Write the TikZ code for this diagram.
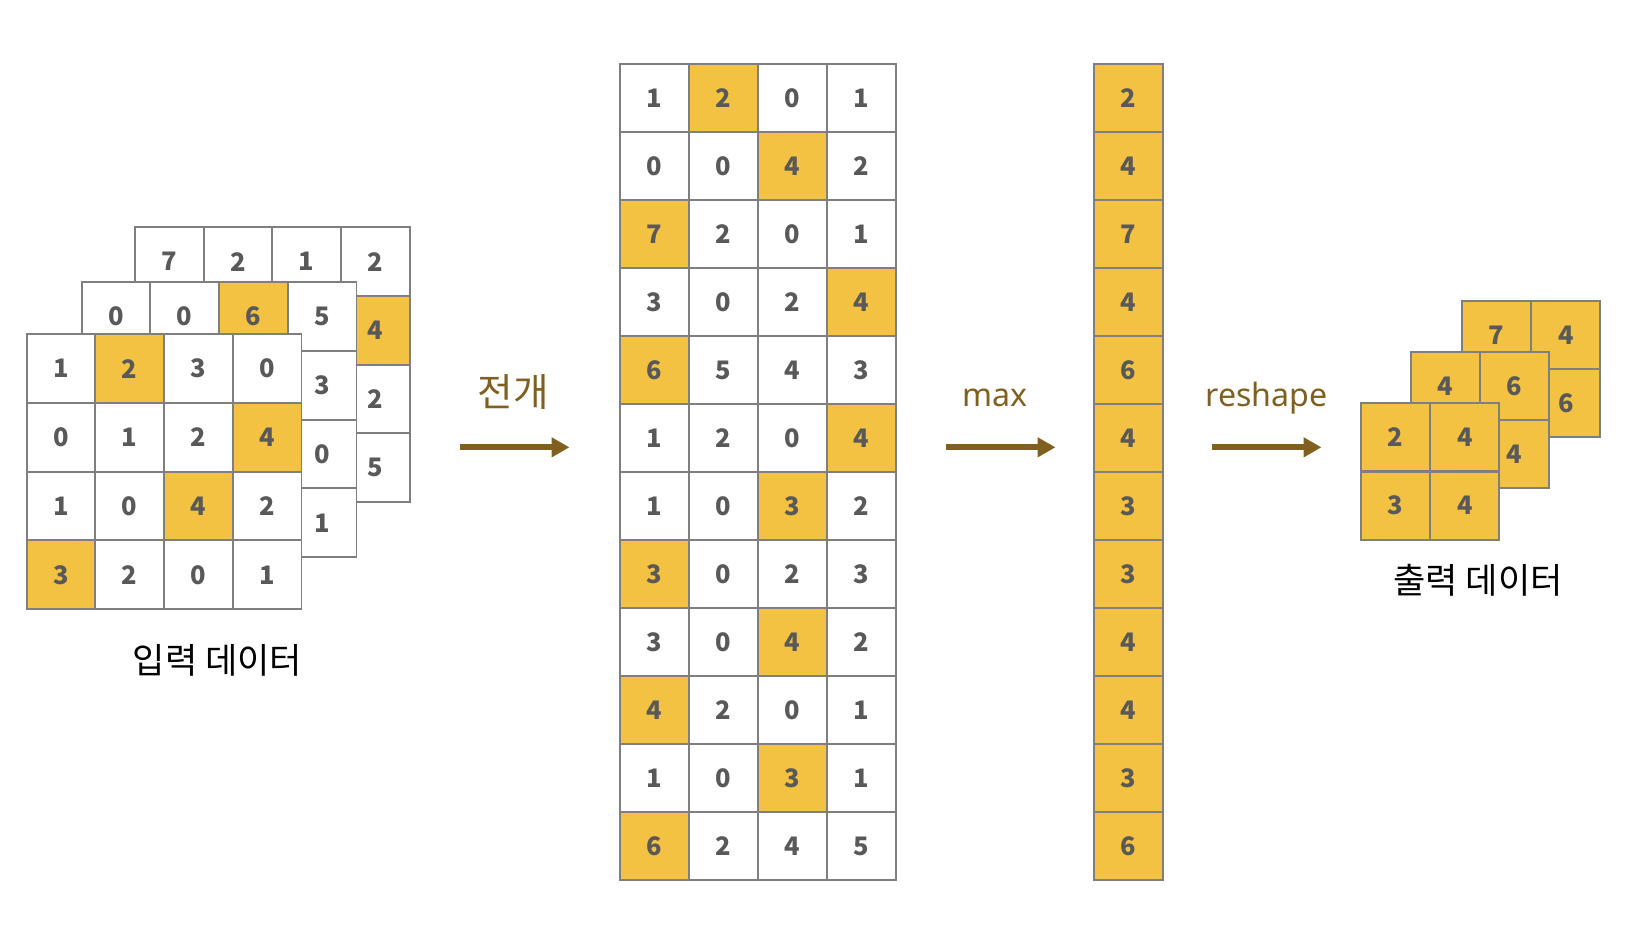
\documentclass[tikz,border=0pt]{standalone}
\usepackage{fontspec}
\setmainfont{Noto Sans}
\newfontfamily\numfont{Noto Sans CJK KR}
\newfontfamily\krfont{Noto Sans CJK KR}
\usetikzlibrary{arrows.meta}
\definecolor{cellgold}{HTML}{F4C242}
\definecolor{cellline}{HTML}{7F7F7F}
\definecolor{numgray}{HTML}{595959}
\definecolor{opbrown}{HTML}{7F6020}
\tikzset{
  cell/.style={draw=cellline, line width=1.1pt, fill=white, minimum width=1.38cm, minimum height=1.36cm,
    inner sep=0pt, outer sep=0pt, text=numgray, font=\numfont\bfseries\fontsize{14.5}{17}\selectfont},
  sq/.style={minimum width=1.374cm, minimum height=1.374cm},
  f0/.style={},
  f1/.style={fill=cellgold},
  oparrow/.style={draw=opbrown, line width=3.4pt, -{Triangle[length=0.36cm,width=0.38cm]}},
  oplabel/.style={text=opbrown, font=\fontsize{18.3}{22}\selectfont},
  caption/.style={font=\krfont\fontsize{20}{24}\selectfont}
}
\begin{document}
\begin{tikzpicture}[x=0.02cm, y=-0.02cm]
\useasboundingbox (0,0) rectangle (1630,924);
\foreach \vals [count=\i] in {{7/0,2/0,1/0,2/0},{/0,/0,/0,4/1},{/0,/0,/0,2/0},{/0,/0,/0,5/0}}
  \foreach \v/\h [count=\j] in \vals
    \node[cell, sq, f\h] (inc-\i-\j) at ({135+34.35+68.7*(\j-1)}, {227.3+34.35+68.7*(\i-1)}) {\v};
\foreach \vals [count=\i] in {{0/0,0/0,6/1,5/0},{/0,/0,/0,3/0},{/0,/0,/0,0/0},{/0,/0,/0,1/0}}
  \foreach \v/\h [count=\j] in \vals
    \node[cell, sq, f\h] (inb-\i-\j) at ({81.7+34.35+68.7*(\j-1)}, {282.3+34.35+68.7*(\i-1)}) {\v};
\foreach \vals [count=\i] in {{1/0,2/1,3/0,0/0},{0/0,1/0,2/0,4/1},{1/0,0/0,4/1,2/0},{3/1,2/0,0/0,1/0}}
  \foreach \v/\h [count=\j] in \vals
    \node[cell, sq, f\h] (ina-\i-\j) at ({26.7+34.35+68.7*(\j-1)}, {334.3+34.35+68.7*(\i-1)}) {\v};
\node[caption] (inlbl) at (217.5,660.5) {입력 데이터};
\coordinate (unfold-s) at (460,447.3);
\coordinate (unfold-e) at (569.5,447.3);
\draw[oparrow] (unfold-s) -- (unfold-e);
\node[oplabel] (unfoldlbl) at (513,392) {\krfont\fontsize{22}{26}\selectfont 전개};
\foreach \vals [count=\i] in {{1/0,2/1,0/0,1/0},{0/0,0/0,4/1,2/0},{7/1,2/0,0/0,1/0},{3/0,0/0,2/0,4/1},
    {6/1,5/0,4/0,3/0},{1/0,2/0,0/0,4/1},{1/0,0/0,3/1,2/0},{3/1,0/0,2/0,3/0},
    {3/0,0/0,4/1,2/0},{4/1,2/0,0/0,1/0},{1/0,0/0,3/1,1/0},{6/1,2/0,4/0,5/0}}
  \foreach \v/\h [count=\j] in \vals
    \node[cell, f\h] (col-\i-\j) at ({620+34.5+69*(\j-1)}, {64.3+34+68*(\i-1)}) {\v};
\coordinate (max-s) at (946,447.3);
\coordinate (max-e) at (1055.5,447.3);
\draw[oparrow] (max-s) -- (max-e);
\node[oplabel, anchor=base] (maxlbl) at (995,406.7) {max};
\foreach \v [count=\i] in {2,4,7,4,6,4,3,3,4,4,3,6}
  \node[cell, f1] (pool-\i) at (1128.5, {64.3+34+68*(\i-1)}) {\v};
\coordinate (resh-s) at (1211.7,447.3);
\coordinate (resh-e) at (1321.5,447.3);
\draw[oparrow] (resh-s) -- (resh-e);
\node[oplabel, anchor=base] (reshlbl) at (1266.7,406.7) {reshape};
\foreach \vals [count=\i] in {{7/1,4/1},{/1,6/1}}
  \foreach \v/\h [count=\j] in \vals
    \node[cell, f\h] (outc-\i-\j) at ({1462+34.6+69.2*(\j-1)}, {300.7+34.1+68.2*(\i-1)}) {\v};
\foreach \vals [count=\i] in {{4/1,6/1},{/1,4/1}}
  \foreach \v/\h [count=\j] in \vals
    \node[cell, f\h] (outb-\i-\j) at ({1410.7+34.6+69.2*(\j-1)}, {351.7+34.1+68.2*(\i-1)}) {\v};
\foreach \vals [count=\i] in {{2/1,4/1},{3/1,4/1}}
  \foreach \v/\h [count=\j] in \vals
    \node[cell, f\h] (outa-\i-\j) at ({1361+34.6+69.2*(\j-1)}, {403.3+34.1+68.2*(\i-1)}) {\v};
\node[caption] (outlbl) at (1478,580) {출력 데이터};
\end{tikzpicture}
\end{document}
